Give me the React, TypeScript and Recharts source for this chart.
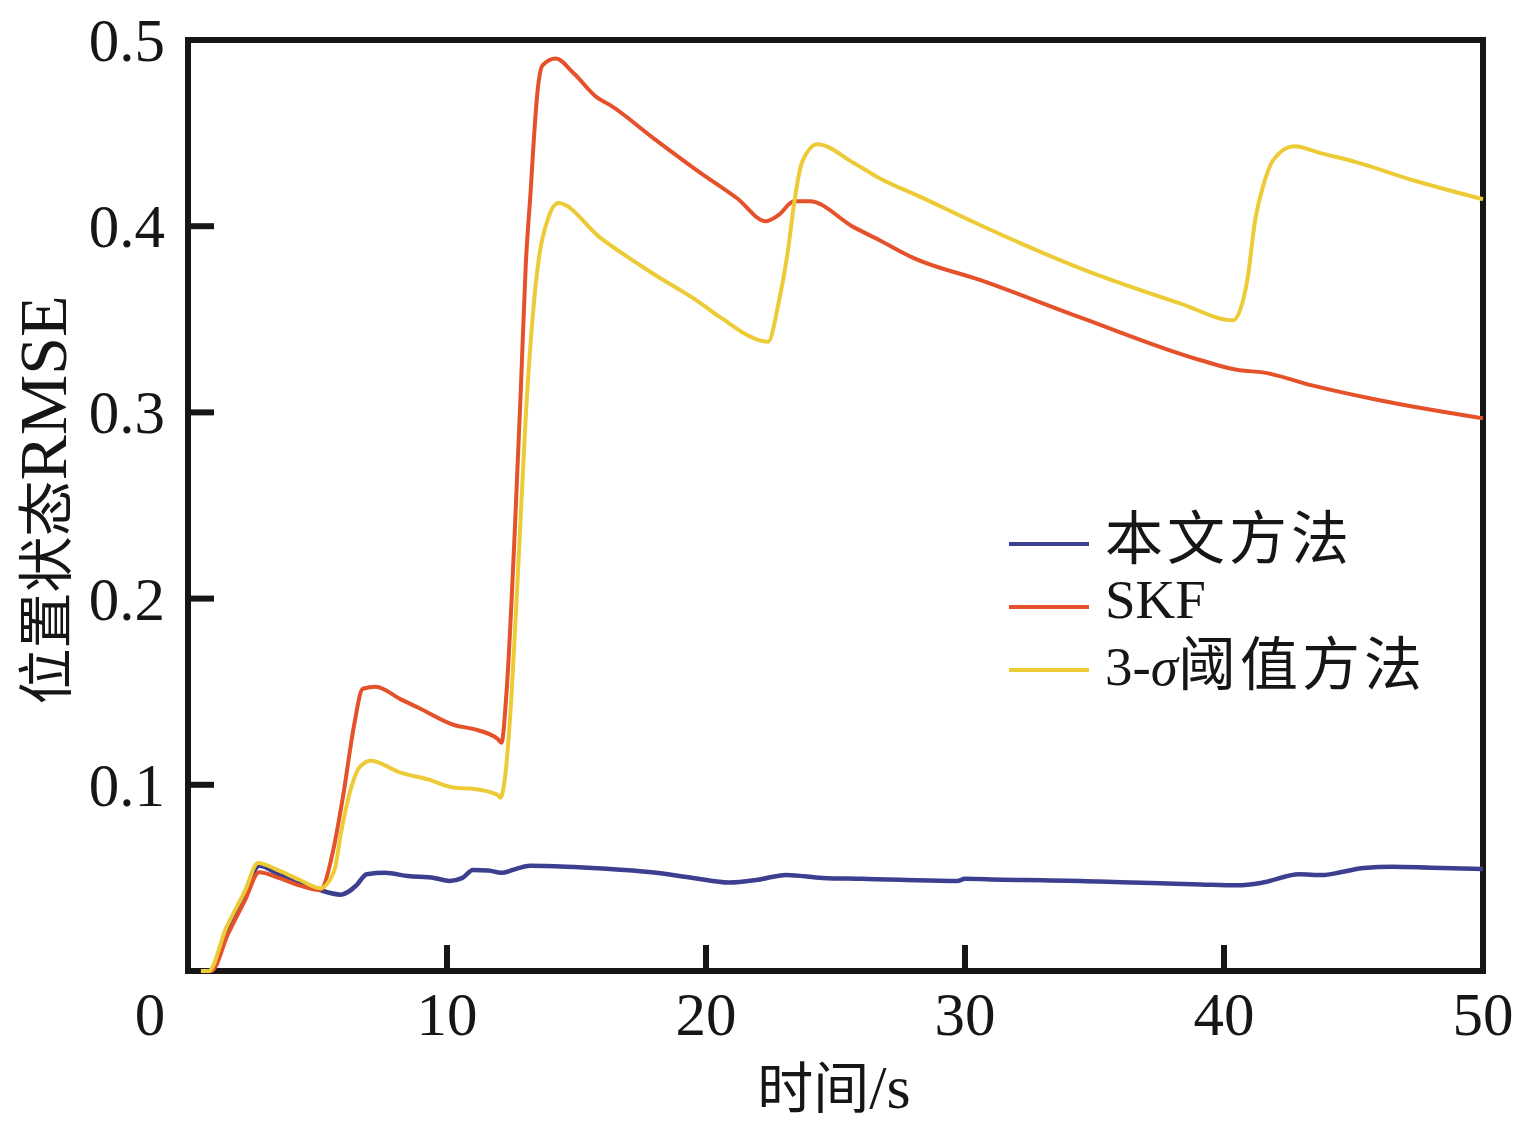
import React from "react";
import { LineChart, Line, XAxis, YAxis, Legend, ReferenceArea } from "recharts";

// 本文方法
const oursTime = [0.5, 0.85, 1.5, 2.2, 2.75, 3.5, 4.3, 5.1, 5.9, 6.5, 6.9, 7.6, 8.5, 9.5, 10.1, 10.6, 11.0, 11.6, 12.1, 12.7, 13.2, 14.6, 16, 17.9, 19.5, 20.9, 22, 23.1, 24.5, 26, 27.5, 29.7, 30.0, 31.4, 33, 35.2, 37.2, 39.1, 40.5, 41.5, 42.9, 43.8, 44.5, 45.4, 46.5, 48, 50];
const oursRmse = [0, 0, 0.022, 0.042, 0.0565, 0.052, 0.048, 0.0435, 0.041, 0.046, 0.052, 0.0527, 0.051, 0.05, 0.0484, 0.05, 0.0543, 0.054, 0.0527, 0.055, 0.0565, 0.056, 0.055, 0.053, 0.05, 0.0475, 0.049, 0.0516, 0.05, 0.0495, 0.049, 0.0484, 0.0495, 0.049, 0.0488, 0.048, 0.0473, 0.0465, 0.046, 0.0475, 0.052, 0.0515, 0.053, 0.0553, 0.056, 0.0555, 0.0548];

// SKF
const skfTime = [0.5, 0.9, 1.55, 2.2, 2.75, 3.5, 4.3, 5.1, 5.2, 5.6, 6.0, 6.4, 6.75, 7.25, 8.2, 8.9, 10.3, 11.0, 11.95, 12.1, 12.3, 12.6, 12.85, 13.04, 13.23, 13.35, 13.5, 13.7, 14.2, 14.9, 15.8, 16.3, 17.9, 19.8, 21.2, 22.3, 22.8, 23.4, 24.0, 25.7, 26.7, 28.0, 30.6, 34.45, 39.1, 40.6, 41.5, 43.4, 46.0, 50];
const skfRmse = [0, 0, 0.02, 0.038, 0.053, 0.05, 0.046, 0.0435, 0.0446, 0.0645, 0.095, 0.131, 0.1516, 0.1527, 0.146, 0.1414, 0.132, 0.13, 0.1247, 0.1226, 0.15, 0.231, 0.312, 0.379, 0.419, 0.446, 0.473, 0.4866, 0.49, 0.482, 0.469, 0.465, 0.448, 0.4285, 0.415, 0.4027, 0.406, 0.4134, 0.4134, 0.3995, 0.3925, 0.383, 0.371, 0.351, 0.328, 0.3226, 0.3215, 0.3145, 0.3065, 0.2968];

// 3-σ阈值方法
const sigmaTime = [0.5, 0.8, 1.47, 2.2, 2.7, 3.5, 4.3, 5.1, 5.65, 5.9, 6.3, 6.6, 7.06, 8.2, 9.25, 10.3, 10.9, 11.95, 12.05, 12.25, 12.5, 12.8, 13.05, 13.3, 13.55, 13.9, 14.3, 15.9, 17.9, 19.8, 20.56, 22.4, 22.8, 23.15, 23.4, 23.7, 24.3, 25.7, 26.7, 28.3, 30.6, 34.45, 38.3, 40.35, 40.9, 41.2, 41.5, 41.9, 42.7, 43.8, 45.1, 47.3, 50];
const sigmaRmse = [0, 0, 0.023, 0.043, 0.058, 0.054, 0.049, 0.0445, 0.054, 0.0737, 0.0984, 0.109, 0.1129, 0.1065, 0.103, 0.0984, 0.098, 0.0946, 0.093, 0.105, 0.15, 0.231, 0.3, 0.35, 0.383, 0.404, 0.4124, 0.394, 0.375, 0.3586, 0.351, 0.338, 0.3586, 0.3855, 0.412, 0.434, 0.444, 0.434, 0.4258, 0.4156, 0.4005, 0.3774, 0.3586, 0.3495, 0.371, 0.403, 0.421, 0.4355, 0.443, 0.439, 0.4344, 0.4247, 0.4145];

const xTicks = [0, 10, 20, 30, 40, 50];
const yTicks = [0.1, 0.2, 0.3, 0.4, 0.5];

const LATIN = "'Liberation Serif', 'Times New Roman', Tinos, Times, serif";
const CJK = "'Noto Sans CJK SC', sans-serif";
const INK = "#161616";

const toRows = (t: number[], v: number[]) => t.map((x, i) => ({ t: x, rmse: v[i] }));

const series = [
  { name: "本文方法", color: "#3C3F8F", width: 4.5, data: toRows(oursTime, oursRmse) },
  { name: "SKF", color: "#E4512A", width: 4, data: toRows(skfTime, skfRmse) },
  { name: "3-σ阈值方法", color: "#ECCB37", width: 4, data: toRows(sigmaTime, sigmaRmse) },
];
const order = series.map((s) => s.name);

// split a label into CJK / latin runs so each gets its own font
const runs = (text: string) => text.match(/[\u4e00-\u9fff]+|[^\u4e00-\u9fff]+/g) || [];
const isCjk = (s: string) => /[\u4e00-\u9fff]/.test(s);

function XTick({ x, y, payload }: any) {
  const v = payload.value;
  return (
    <g>
      {v > 0 && v < 50 && <line x1={x} x2={x} y1={y} y2={y - 26} stroke={INK} strokeWidth={6} />}
      <text x={v === 0 ? x - 38 : x} y={y + 64} textAnchor="middle" fontFamily={LATIN} fontSize={61} fill={INK}>
        {v}
      </text>
    </g>
  );
}

function YTick({ x, y, payload }: any) {
  const v = payload.value;
  return (
    <g>
      {v < 0.5 && <line x1={x} x2={x + 26} y1={y} y2={y} stroke={INK} strokeWidth={6} />}
      <text x={x - 23} y={y + 21} textAnchor="end" fontFamily={LATIN} fontSize={61} fill={INK}>
        {v.toFixed(1)}
      </text>
    </g>
  );
}

const titleSpans = (text: string, cjkSize: number, latinSize: number) =>
  runs(text).map((r, i) => (
    <tspan key={i} fontFamily={isCjk(r) ? CJK : LATIN} fontSize={isCjk(r) ? cjkSize : latinSize}>
      {r}
    </tspan>
  ));

const xTitle = () => (
  <text x={834} y={1108} textAnchor="middle" fill={INK}>
    {titleSpans("时间/s", 56, 62)}
  </text>
);

const yTitle = () => (
  <text x={66} y={500} textAnchor="middle" fill={INK} transform="rotate(-90 66 500)">
    {titleSpans("位置状态RMSE", 56, 68)}
  </text>
);

function renderLegend({ payload }: any) {
  const items = [...(payload || [])].sort((a: any, b: any) => order.indexOf(a.value) - order.indexOf(b.value));
  return (
    <div>
      {items.map((p: any) => (
        <div key={p.value} style={{ display: "flex", alignItems: "center", height: 63 }}>
          <svg width={82} height={8} style={{ marginRight: 15, flexShrink: 0 }}>
            <line x1={1} x2={81} y1={4} y2={4} stroke={p.color} strokeWidth={4} />
          </svg>
          <span style={{ color: INK, whiteSpace: "nowrap", lineHeight: "56px" }}>
            {runs(p.value).map((r, i) =>
              isCjk(r) ? (
                <span key={i} style={{ fontFamily: CJK, fontSize: 58, letterSpacing: 4 }}>{r}</span>
              ) : (
                <span key={i} style={{ fontFamily: LATIN, fontSize: 55 }}>
                  {r.split("σ").map((part, j, all) => (
                    <React.Fragment key={j}>
                      {part}
                      {j < all.length - 1 && <i>σ</i>}
                    </React.Fragment>
                  ))}
                </span>
              )
            )}
          </span>
        </div>
      ))}
    </div>
  );
}

export default function App() {
  return (
    <div style={{ position: "absolute", left: 0, top: 0, width: 1531, height: 1126, background: "#fff" }}>
      <LineChart width={1531} height={1126} margin={{ top: 40, right: 48, left: 0, bottom: 0 }}>
        <XAxis
          type="number"
          dataKey="t"
          domain={[0, 50]}
          ticks={xTicks}
          interval={0}
          height={155}
          axisLine={false}
          tickLine={false}
          tickSize={0}
          tickMargin={0}
          tick={<XTick />}
          label={xTitle}
        />
        <YAxis
          type="number"
          domain={[0, 0.5]}
          ticks={yTicks}
          interval={0}
          width={188}
          axisLine={false}
          tickLine={false}
          tickSize={0}
          tickMargin={0}
          tick={<YTick />}
          label={yTitle}
        />
        {series.map((s) => (
          <Line
            key={s.name}
            data={s.data}
            dataKey="rmse"
            name={s.name}
            type="monotone"
            stroke={s.color}
            strokeWidth={s.width}
            dot={false}
            activeDot={false}
            isAnimationActive={false}
          />
        ))}
        <ReferenceArea x1={0} x2={50} y1={0} y2={0.5} fill="none" stroke={INK} strokeWidth={6} ifOverflow="visible" />
        <Legend
          layout="vertical"
          align="center"
          verticalAlign="middle"
          content={renderLegend}
          wrapperStyle={{ left: 1008, top: 512, width: 500, height: 190 }}
        />
      </LineChart>
    </div>
  );
}
